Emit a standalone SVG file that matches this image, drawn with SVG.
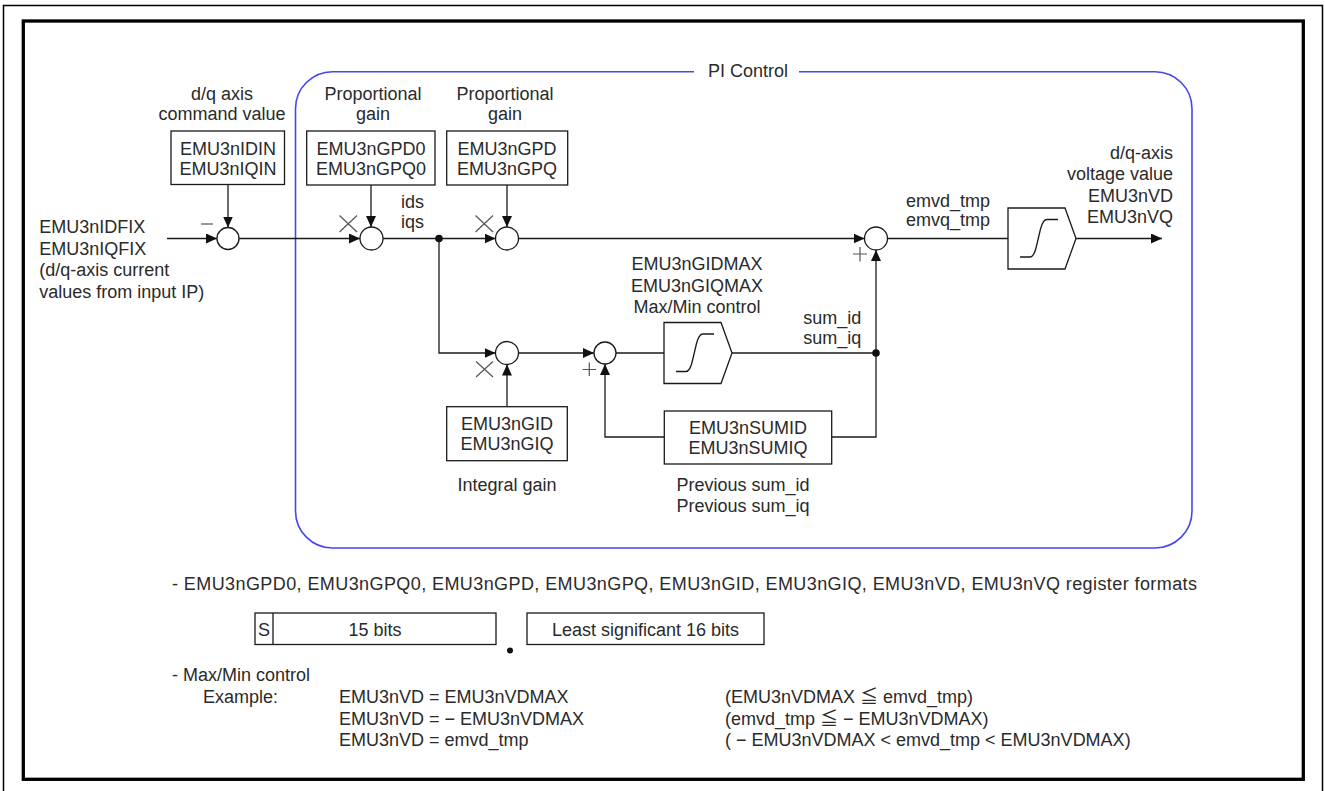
<svg xmlns="http://www.w3.org/2000/svg" width="1325" height="791" viewBox="0 0 1325 791">
<defs>
<style>
text{font-family:'Liberation Sans',Arial,'Noto Sans CJK JP',sans-serif;font-size:18px;fill:#2a2a2a}
.m{text-anchor:middle}
.e{text-anchor:end}
.box{fill:#fff;stroke:#1a1a1a;stroke-width:1.3}
.ln{fill:none;stroke:#1a1a1a;stroke-width:1.3}
.ar{marker-end:url(#ah)}
.sg{stroke:#555;stroke-width:1.2;fill:none}
.sum{fill:#fff;stroke:#1a1a1a;stroke-width:1.3}
.dot{fill:#111}
</style>
<marker id="ah" markerUnits="userSpaceOnUse" markerWidth="11" markerHeight="10" refX="11" refY="5" orient="auto"><path d="M0,0 L11,5 L0,10 Z" fill="#111"/></marker>
<path id="limshape" d="M0,0 H57 L68,30.5 L57,61 H0 Z"/>
<path id="limstep" d="M12,49 H22 Q26,49 28.5,38 L32.5,21 Q35,11.5 39,11.5 H50"/>
</defs>
<rect width="1325" height="791" fill="#fff"/>
<g id="frames">
<rect x="3.5" y="5.5" width="1319" height="800" fill="none" stroke="#000" stroke-width="1.5"/>
<rect x="23.3" y="21" width="1280" height="758.3" fill="none" stroke="#000" stroke-width="3.3"/>
</g>
<g id="pi-control">
<path d="M694,71.7 H332.5 A37,37 0 0 0 295.5,108.7 V511 A37,37 0 0 0 332.5,548 H1155 A37,37 0 0 0 1192,511 V108.7 A37,37 0 0 0 1155,71.7 H799" fill="none" stroke="#4646f0" stroke-width="1.6"/>
<text x="748" y="77" class="m">PI Control</text>
</g>
<g id="connectors">
<path class="ln ar" d="M167,238.5 H217"/>
<path class="ln ar" d="M228,184.5 V227.5"/>
<path class="ln ar" d="M239,238.5 H360"/>
<path class="ln ar" d="M371,185 V227"/>
<path class="ln ar" d="M383,238.5 H495.5"/>
<path class="ln ar" d="M507,185 V227"/>
<path class="ln ar" d="M439,238.5 V353 H495.5"/>
<path class="ln ar" d="M507,406.7 V364.5"/>
<path class="ln ar" d="M518.5,353 H594"/>
<path class="ln" d="M616,353 H664"/>
<path class="ln" d="M732,353 H876"/>
<path class="ln ar" d="M876,353 V250"/>
<path class="ln" d="M876,353 V437 H832"/>
<path class="ln ar" d="M664,437 H605 V364"/>
<path class="ln ar" d="M518.5,238.5 H864.5"/>
<path class="ln" d="M887.5,238.5 H1008"/>
<path class="ln ar" d="M1076,238.5 H1162"/>
<circle class="dot" cx="439" cy="238.5" r="3.8"/>
<circle class="dot" cx="876" cy="353" r="3.8"/>
</g>
<g id="signs">
<path class="sg" d="M201,224 H213"/>
<path class="sg" d="M339.5,215.5 L357,232 M339.5,232 L357,215.5"/>
<path class="sg" d="M475.5,215.5 L493,232 M475.5,232 L493,215.5"/>
<path class="sg" d="M476,361.5 L493,377 M476,377 L493,361.5"/>
<path class="sg" d="M582.5,369.5 H596 M589.3,362.5 V376"/>
<path class="sg" d="M853,254 H867 M860,247 V261.5"/>
</g>
<g id="input-label">
<text x="39.3" y="233">EMU3nIDFIX</text>
<text x="39.3" y="254.5">EMU3nIQFIX</text>
<text x="39.3" y="276">(d/q-axis current</text>
<text x="39.3" y="297.5">values from input IP)</text>
</g>
<g id="box-idin">
<text x="222" y="100" class="m">d/q axis</text>
<text x="222" y="120" class="m">command value</text>
<rect class="box" x="171" y="131" width="113.5" height="53.5"/>
<text x="228" y="155" class="m">EMU3nIDIN</text>
<text x="228" y="175" class="m">EMU3nIQIN</text>
</g>
<g id="box-gpd0">
<text x="373" y="100" class="m">Proportional</text>
<text x="373" y="120" class="m">gain</text>
<rect class="box" x="306.7" y="131" width="128.3" height="54"/>
<text x="371" y="155" class="m">EMU3nGPD0</text>
<text x="371" y="175" class="m">EMU3nGPQ0</text>
</g>
<g id="box-gpd">
<text x="505" y="100" class="m">Proportional</text>
<text x="505" y="120" class="m">gain</text>
<rect class="box" x="446.7" y="131" width="121" height="54"/>
<text x="507" y="155" class="m">EMU3nGPD</text>
<text x="507" y="175" class="m">EMU3nGPQ</text>
</g>
<g id="label-ids">
<text x="401" y="208">ids</text>
<text x="401" y="228">iqs</text>
</g>
<g id="sum1"><circle class="sum" cx="228" cy="238.5" r="11"/></g>
<g id="sum2"><circle class="sum" cx="371.5" cy="238.5" r="11.5"/></g>
<g id="sum3"><circle class="sum" cx="507" cy="238.5" r="11.5"/></g>
<g id="sum4"><circle class="sum" cx="876" cy="238.5" r="11.5"/></g>
<g id="sum5"><circle class="sum" cx="507" cy="353" r="11.5"/></g>
<g id="sum6"><circle class="sum" cx="605" cy="353" r="11"/></g>
<g id="label-emv">
<text x="906" y="206.5">emvd_tmp</text>
<text x="906" y="226">emvq_tmp</text>
</g>
<g id="limiter-out" transform="translate(1008,208)">
<use href="#limshape" class="box"/>
<use href="#limstep" class="ln"/>
</g>
<g id="output-label">
<text x="1173" y="159" class="e">d/q-axis</text>
<text x="1173" y="180" class="e">voltage value</text>
<text x="1173" y="201.5" class="e">EMU3nVD</text>
<text x="1173" y="222.5" class="e">EMU3nVQ</text>
</g>
<g id="limiter-sum" transform="translate(664,322.5)">
<use href="#limshape" class="box"/>
<use href="#limstep" class="ln"/>
</g>
<g id="limiter-sum-label">
<text x="697" y="270" class="m">EMU3nGIDMAX</text>
<text x="697" y="291.5" class="m">EMU3nGIQMAX</text>
<text x="697" y="312.7" class="m">Max/Min control</text>
</g>
<g id="label-sum">
<text x="803.3" y="324">sum_id</text>
<text x="803.3" y="344">sum_iq</text>
</g>
<g id="box-gid">
<rect class="box" x="446.7" y="406.7" width="120.6" height="54"/>
<text x="507" y="430" class="m">EMU3nGID</text>
<text x="507" y="450" class="m">EMU3nGIQ</text>
<text x="507" y="490.5" class="m">Integral gain</text>
</g>
<g id="box-sumid">
<rect class="box" x="664.3" y="411" width="167.4" height="53"/>
<text x="748" y="434" class="m">EMU3nSUMID</text>
<text x="748" y="453.5" class="m">EMU3nSUMIQ</text>
<text x="743" y="490.5" class="m">Previous sum_id</text>
<text x="743" y="511.5" class="m">Previous sum_iq</text>
</g>
<g id="register-format">
<text x="172" y="589.5" textLength="1025" lengthAdjust="spacing">- EMU3nGPD0, EMU3nGPQ0, EMU3nGPD, EMU3nGPQ, EMU3nGID, EMU3nGIQ, EMU3nVD, EMU3nVQ register formats</text>
<rect class="box" x="255" y="613" width="241" height="31.5"/>
<path class="ln" d="M273,613 V644.5"/>
<text x="264" y="635.5" class="m">S</text>
<text x="375" y="635.5" class="m">15 bits</text>
<circle class="dot" cx="510" cy="650.5" r="3"/>
<rect class="box" x="527" y="613" width="237" height="31.5"/>
<text x="645.5" y="635.5" class="m">Least significant 16 bits</text>
</g>
<g id="maxmin">
<text x="172" y="680.5">- Max/Min control</text>
<text x="203" y="703">Example:</text>
<text x="339" y="703">EMU3nVD = EMU3nVDMAX</text>
<text x="339" y="724.5">EMU3nVD = − EMU3nVDMAX</text>
<text x="339" y="746">EMU3nVD = emvd_tmp</text>
<text x="725" y="703">(EMU3nVDMAX  ≦ emvd_tmp)</text>
<text x="725" y="724.5">(emvd_tmp ≦ − EMU3nVDMAX)</text>
<text x="725" y="746">( − EMU3nVDMAX &lt; emvd_tmp &lt; EMU3nVDMAX)</text>
</g>
</svg>
